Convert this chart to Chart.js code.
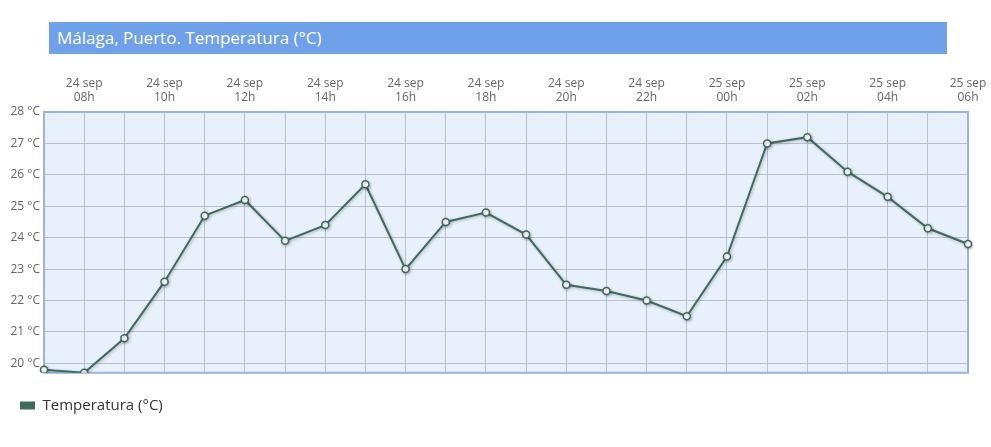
<!DOCTYPE html>
<html><head><meta charset="utf-8">
<script src="https://cdn.jsdelivr.net/npm/chart.js@4.4.0/dist/chart.umd.min.js"></script>
<style>
html,body{margin:0;padding:0;background:#fff;}
#wrap{position:relative;width:991px;height:447px;}
#title{position:absolute;left:49px;top:22px;width:890px;height:32px;padding-left:8px;background:#6fa0ea;color:#fff;font-family:"Open Sans",sans-serif;font-size:17px;line-height:32px;}
canvas{position:absolute;left:0;top:0;}
</style></head>
<body>
<div id="wrap">
<canvas id="c" width="991" height="447"></canvas>
<div id="title">Málaga, Puerto. Temperatura (°C)</div>
</div>
<script>
const days = ["24 sep","24 sep","24 sep","24 sep","24 sep","24 sep","24 sep","24 sep","24 sep","24 sep","24 sep","24 sep","24 sep","24 sep","24 sep","24 sep","24 sep","25 sep","25 sep","25 sep","25 sep","25 sep","25 sep","25 sep"];
const hours = ["07h","08h","09h","10h","11h","12h","13h","14h","15h","16h","17h","18h","19h","20h","21h","22h","23h","00h","01h","02h","03h","04h","05h","06h"];
const temps = [19.8,19.7,20.8,22.6,24.7,25.2,23.9,24.4,25.7,23.0,24.5,24.8,24.1,22.5,22.3,22.0,21.5,23.4,27.0,27.2,26.1,25.3,24.3,23.8];
const yTicks = [20,21,22,23,24,25,26,27,28];
const seriesName = "Temperatura (°C)";

const labels = days.map((d,i)=>[d,hours[i]]);
const lineColor = "#3f6b5e";

const areaPlugin = {
  id:'area',
  beforeDraw(chart){
    const a = chart.chartArea, ctx = chart.ctx;
    ctx.save();
    ctx.fillStyle = '#e8f0fb';
    ctx.fillRect(a.left,a.top,a.right-a.left,a.bottom-a.top);
    ctx.restore();
  },
  beforeDatasetsDraw(chart){
    const a = chart.chartArea, ctx = chart.ctx;
    ctx.save();
    ctx.strokeStyle = '#9ab4de';
    ctx.lineWidth = 2;
    ctx.strokeRect(a.left,a.top,a.right-a.left,a.bottom-a.top);
    ctx.restore();
  },
  beforeDatasetDraw(chart){
    const ctx = chart.ctx;
    ctx.save();
    ctx.shadowColor='rgba(0,0,0,0.25)';
    ctx.shadowBlur=3;
    ctx.shadowOffsetX=1;
    ctx.shadowOffsetY=1;
  },
  afterDatasetDraw(chart){ chart.ctx.restore(); }
};

new Chart(document.getElementById('c'),{
  type:'line',
  data:{labels:labels,datasets:[{
    label:seriesName,data:temps,borderColor:lineColor,backgroundColor:lineColor,
    borderWidth:2,tension:0,pointRadius:3.5,pointBackgroundColor:'#fff',
    pointBorderColor:lineColor,pointBorderWidth:1.5,pointHoverRadius:4
  }]},
  options:{
    responsive:false,animation:false,
    layout:{padding:{left:0,right:23,top:0,bottom:24}},
    plugins:{
      title:{display:false},tooltip:{enabled:false},
      legend:{position:'bottom',align:'start',
        title:{display:true,text:' ',font:{size:1},padding:{top:2,bottom:2}},
        labels:{boxWidth:15,boxHeight:8,padding:20,color:'#333',
          font:{family:'"Open Sans", sans-serif',size:15},
          generateLabels(chart){return [{text:seriesName,fillStyle:lineColor,strokeStyle:lineColor,lineWidth:0,datasetIndex:0,fontColor:'#333'}];}
        }}
    },
    scales:{
      x:{position:'top',offset:false,
        grid:{color:'#b9c1cf',lineWidth:1,drawTicks:false},
        border:{display:false},
        ticks:{autoSkip:false,maxRotation:0,minRotation:0,padding:7,color:'#666',
          font:{family:'"Open Sans", sans-serif',size:12},
          callback:function(v,i){return i%2===1?labels[i]:'';}},
        afterFit(s){s.height=112;s.paddingLeft=0;s.paddingRight=0;}
      },
      y:{min:19.7,max:28,
        grid:{color:'#b9c1cf',lineWidth:1,drawTicks:false},
        border:{display:false},
        afterBuildTicks(s){s.ticks=yTicks.map(v=>({value:v}));},
        ticks:{padding:4,color:'#666',font:{family:'"Open Sans", sans-serif',size:12},
          callback:v=>v+' °C'},
        afterFit(s){s.width=44;}
      }
    }
  },
  plugins:[areaPlugin]
});
</script>
</body></html>
